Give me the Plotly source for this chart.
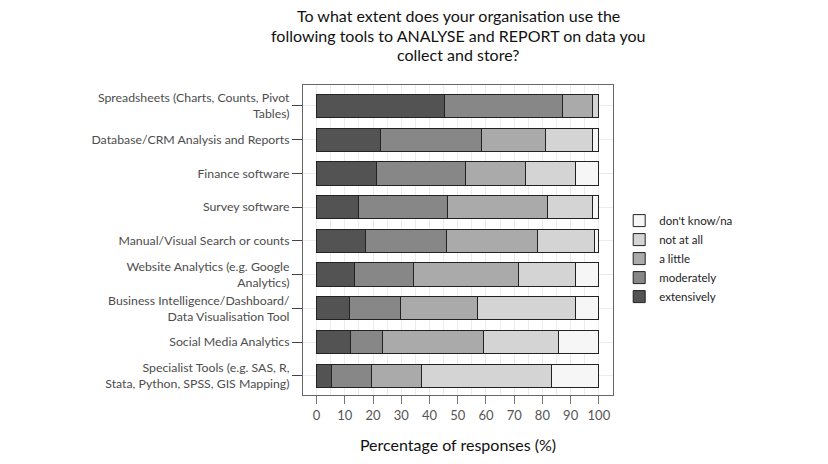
import plotly.graph_objects as go

categories = [
    "Spreadsheets (Charts, Counts, Pivot<br>Tables)",
    "Database/CRM Analysis and Reports",
    "Finance software",
    "Survey software",
    "Manual/Visual Search or counts",
    "Website Analytics (e.g. Google<br>Analytics)",
    "Business Intelligence/Dashboard/<br>Data Visualisation Tool",
    "Social Media Analytics",
    "Specialist Tools (e.g. SAS, R,<br>Stata, Python, SPSS, GIS Mapping)",
]

extensively = [45.3, 22.8, 21.4, 14.7, 17.5, 13.6, 11.7, 12.1, 5.3]
moderately  = [41.9, 35.5, 31.4, 31.8, 28.7, 20.9, 17.9, 11.4, 14.3]
a_little    = [10.4, 22.7, 21.1, 35.4, 31.9, 36.9, 27.5, 35.6, 17.6]
not_at_all  = [2.4, 16.6, 17.9, 15.7, 20.5, 20.4, 34.7, 26.7, 46.1]
dont_know   = [0.0, 2.4, 8.2, 2.4, 1.4, 8.2, 8.2, 14.2, 16.7]

series = [
    ("extensively", extensively, "#535353"),
    ("moderately", moderately, "#878787"),
    ("a little", a_little, "#aaaaaa"),
    ("not at all", not_at_all, "#d4d4d4"),
    ("don't know/na", dont_know, "#f6f6f6"),
]

x_ticks = [0, 10, 20, 30, 40, 50, 60, 70, 80, 90, 100]

title_lines = [
    "To what extent does your organisation use the",
    "following tools to ANALYSE and REPORT on data you",
    "collect and store?",
]

FONT = "Lato"

fig = go.Figure()
for name, vals, col in series:
    fig.add_trace(go.Bar(
        y=categories, x=vals, name=name, orientation="h",
        marker=dict(color=col, line=dict(color="#222222", width=1)),
        width=0.69,
    ))

# title as three separate lines (tighter line spacing than plotly's default)
for i, line in enumerate(title_lines):
    fig.add_annotation(
        text=line, xref="paper", yref="paper", x=0.5, y=1.0,
        xanchor="center", yanchor="middle", showarrow=False,
        yshift=69.5 - 19.5 * i,
        font=dict(family=FONT, size=16, color="#111111"),
    )

fig.update_layout(
    barmode="stack",
    width=828, height=464,
    paper_bgcolor="white", plot_bgcolor="white",
    margin=dict(l=303, r=215, t=85, b=67),
    font=dict(family=FONT, color="#4d4d4d", size=12),
    legend=dict(
        traceorder="reversed",
        x=1.02, xanchor="left", y=0.44, yanchor="middle",
        font=dict(family=FONT, size=11.5, color="#222222"),
        bgcolor="rgba(0,0,0,0)",
    ),
    showlegend=True,
)

fig.update_xaxes(
    range=[-4.8, 105],
    tickvals=x_ticks,
    ticks="outside", ticklen=8, tickcolor="#777777",
    tickfont=dict(family=FONT, size=13, color="#555555"),
    showgrid=True, gridcolor="#ececec", gridwidth=1,
    minor=dict(dtick=5, showgrid=True, gridcolor="#ececec", ticks=""),
    showline=True, linecolor="#666666", linewidth=1, mirror=True,
    zeroline=False,
    title=dict(text="Percentage of responses (%)", font=dict(family=FONT, size=16, color="#111111"), standoff=18),
)
fig.update_yaxes(
    range=[8.57, -0.62],
    ticks="outside", ticklen=10, tickcolor="#444444",
    tickfont=dict(family=FONT, size=12.3, color="#4d4d4d"),
    showgrid=True, gridcolor="#ececec",
    showline=True, linecolor="#666666", linewidth=1, mirror=True,
)

fig.write_html("out.html", config={"displayModeBar": False},
               post_script="document.body.style.margin='0';")
